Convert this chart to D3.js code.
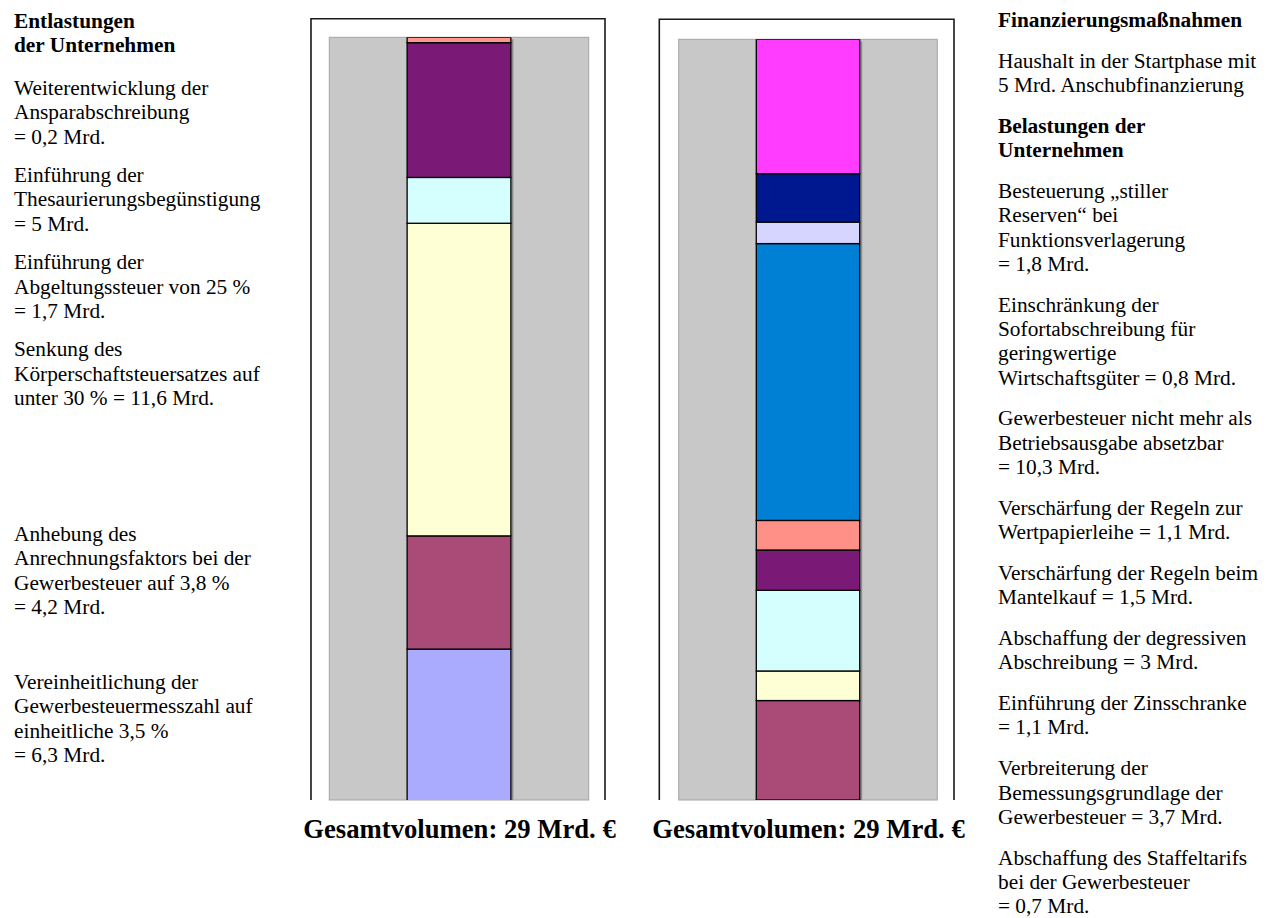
<!DOCTYPE html>
<html lang="de">
<head>
<meta charset="utf-8">
<title>Unternehmensteuerreform – Gesamtvolumen</title>
<script src="https://cdn.jsdelivr.net/npm/d3@7"></script>
<style>
  html, body { margin: 0; padding: 0; background: #fff; }
  svg { display: block; }
  text { font-family: "Liberation Serif", "Times New Roman", serif; fill: #000; }
</style>
</head>
<body>
<svg id="chart" width="1273" height="918"></svg>
<script>
// ---- Data -------------------------------------------------------------
// Entlastungen (left stack), listed top to bottom as in the text column
const leftHeading = ["Entlastungen", "der Unternehmen"];
const leftTexts = [
  ["Weiterentwicklung der", "Ansparabschreibung", "= {v} Mrd."],
  ["Einführung der", "Thesaurierungsbegünstigung", "= {v} Mrd."],
  ["Einführung der", "Abgeltungssteuer von 25 %", "= {v} Mrd."],
  ["Senkung des", "Körperschaftsteuersatzes auf", "unter 30 % = {v} Mrd."],
  ["Anhebung des", "Anrechnungsfaktors bei der", "Gewerbesteuer auf 3,8 %", "= {v} Mrd."],
  ["Vereinheitlichung der", "Gewerbesteuermesszahl auf", "einheitliche 3,5 %", "= {v} Mrd."]
];
const leftValues = [0.2, 5, 1.7, 11.6, 4.2, 6.3];
const leftColors = ["#ff968f", "#7a1a76", "#d5ffff", "#ffffd5", "#aa4a77", "#aaaaff"];

// Finanzierung (right stack), listed top to bottom as in the text column
const rightHeadingTop = ["Finanzierungsmaßnahmen"];
const rightHeadingMid = ["Belastungen der", "Unternehmen"];
const rightTexts = [
  ["Haushalt in der Startphase mit", "{v} Mrd. Anschubfinanzierung"],
  ["Besteuerung „stiller", "Reserven“ bei", "Funktionsverlagerung", "= {v} Mrd."],
  ["Einschränkung der", "Sofortabschreibung für", "geringwertige", "Wirtschaftsgüter = {v} Mrd."],
  ["Gewerbesteuer nicht mehr als", "Betriebsausgabe absetzbar", "= {v} Mrd."],
  ["Verschärfung der Regeln zur", "Wertpapierleihe = {v} Mrd."],
  ["Verschärfung der Regeln beim", "Mantelkauf = {v} Mrd."],
  ["Abschaffung der degressiven", "Abschreibung = {v} Mrd."],
  ["Einführung der Zinsschranke", "= {v} Mrd."],
  ["Verbreiterung der", "Bemessungsgrundlage der", "Gewerbesteuer = {v} Mrd."],
  ["Abschaffung des Staffeltarifs", "bei der Gewerbesteuer", "= {v} Mrd."]
];
const rightValues = [5, 1.8, 0.8, 10.3, 1.1, 1.5, 3, 1.1, 3.7, 0.7];
const rightColors = ["#ff3cff", "#00188f", "#d5d5ff", "#0080d5", "#ff9088",
                     "#7a1a76", "#d5ffff", "#ffffd5", "#aa4a77", "#aaaaff"];

const categories = ["Gesamtvolumen"];
const captionTemplate = "Gesamtvolumen: {v} Mrd. €";
// value axis of both stacks (in Mrd. €)
const valueDomain = [0.7, 29];

// ---- Helpers ------------------------------------------------------------
const de = d3.formatLocale({ decimal: ",", thousands: ".", grouping: [3], currency: ["", " €"] });
const fmt = de.format("~g");
const fill = (s, v) => s.replace("{v}", fmt(v));

const svg = d3.select("#chart");
const FS = 21.33;        // 16pt body text
const LH = 24.3;         // line step

// ---- Stacked column panel -------------------------------------------------
function drawPanel(opt, values, colors, id) {
  const g = svg.append("g").attr("class", "panel");

  // outer frame, open at the bottom
  g.append("path")
    .attr("d", `M${opt.frameX0},${opt.plotY1} V${opt.frameY0} H${opt.frameX1} V${opt.plotY1}`)
    .attr("fill", "none").attr("stroke", "#1a1a1a").attr("stroke-width", 1.6);

  // plot area
  g.append("rect")
    .attr("x", opt.plotX0).attr("y", opt.plotY0)
    .attr("width", opt.plotX1 - opt.plotX0).attr("height", opt.plotY1 - opt.plotY0)
    .attr("fill", "#c8c8c8").attr("stroke", "#a4a4a4").attr("stroke-width", 1);

  const x = d3.scaleBand().domain(categories)
    .range([opt.plotX0, opt.plotX1]).paddingInner(0).paddingOuter(0.75);
  const y = d3.scaleLinear().domain(valueDomain).range([opt.plotY1, opt.plotY0]);

  g.append("clipPath").attr("id", id)
    .append("rect")
    .attr("x", opt.plotX0).attr("y", opt.plotY0)
    .attr("width", opt.plotX1 - opt.plotX0).attr("height", opt.plotY1 - opt.plotY0);

  // stack from the bottom: reverse the top-to-bottom lists
  const keys = values.map((_, i) => "k" + i).reverse();
  const row = { cat: categories[0] };
  values.forEach((v, i) => { row["k" + i] = v; });
  const series = d3.stack().keys(keys)([row]);

  const bars = g.append("g").attr("clip-path", `url(#${id})`);

  // soft shadow on the right of the column
  const top = d3.max(series, s => s[0][1]);
  bars.append("rect")
    .attr("x", x(categories[0]) + x.bandwidth() + 0.5)
    .attr("y", y(top) + 2)
    .attr("width", 2)
    .attr("height", opt.plotY1 - y(top))
    .attr("fill", "#8c8c8c");

  bars.selectAll("rect.seg")
    .data(series)
    .join("rect")
    .attr("class", "seg")
    .attr("x", x(categories[0]))
    .attr("width", x.bandwidth())
    .attr("y", s => y(s[0][1]))
    .attr("height", s => y(s[0][0]) - y(s[0][1]))
    .attr("fill", s => colors[+s.key.slice(1)])
    .attr("stroke", "#000")
    .attr("stroke-width", 1.3);

  // caption with the total
  svg.append("text")
    .attr("x", opt.captionX).attr("y", opt.captionY)
    .attr("text-anchor", "middle")
    .attr("font-weight", "bold")
    .attr("font-size", 26.67)
    .text(fill(captionTemplate, d3.sum(values)));
}

drawPanel({ frameX0: 311, frameX1: 605, frameY0: 18.7,
            plotX0: 329.3, plotX1: 588.7, plotY0: 37.3, plotY1: 800,
            captionX: 459.5, captionY: 838 }, leftValues, leftColors, "clipL");
drawPanel({ frameX0: 659.3, frameX1: 954, frameY0: 19.3,
            plotX0: 678.7, plotX1: 937.3, plotY0: 39.3, plotY1: 800,
            captionX: 808.5, captionY: 838 }, rightValues, rightColors, "clipR");

// ---- Text columns ---------------------------------------------------------
function block(x, y0, lines, bold) {
  const t = svg.append("text").attr("x", x).attr("y", y0).attr("font-size", FS)
    .attr("font-weight", bold ? "bold" : "normal");
  lines.forEach((l, i) => {
    t.append("tspan").attr("x", x).attr("y", y0 + i * LH).text(l);
  });
  return y0 + (lines.length - 1) * LH;
}

// left column
{
  const x = 14;
  let y = block(x, 28, leftHeading, true);
  const starts = [95, null, null, null, 541, 689];
  const gap = 14.2;
  leftTexts.forEach((lines, i) => {
    const y0 = starts[i] != null ? starts[i] : y + LH + gap;
    y = block(x, y0, lines.map(l => fill(l, leftValues[i])), false);
  });
}

// right column
{
  const x = 998;
  const gap = 16.5;
  let y = block(x, 27, rightHeadingTop, true);
  rightTexts.forEach((lines, i) => {
    y = block(x, y + LH + gap, lines.map(l => fill(l, rightValues[i])), false);
    if (i === 0) y = block(x, y + LH + gap, rightHeadingMid, true);
  });
}
</script>
</body>
</html>
